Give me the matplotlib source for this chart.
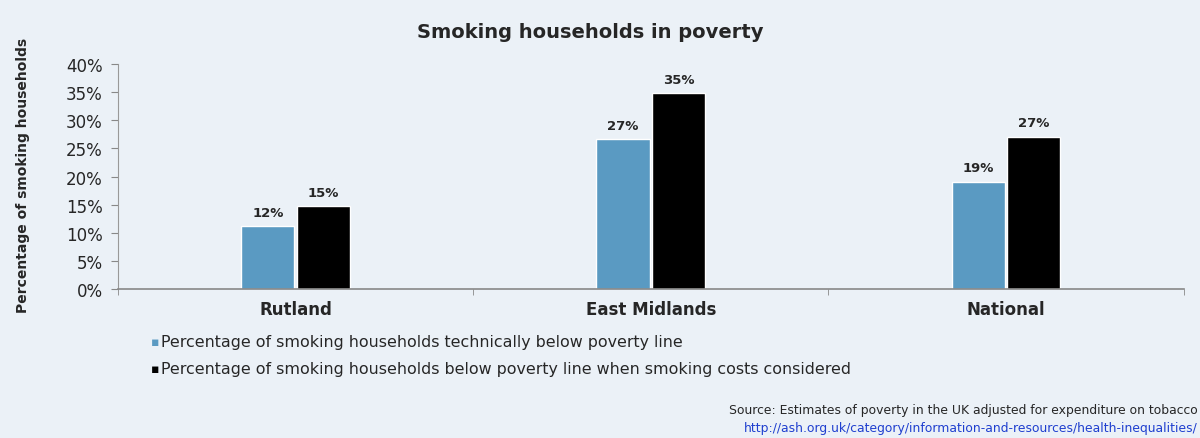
import numpy as np
import matplotlib.pyplot as plt

# data
regions = ["Rutland", "East Midlands", "National"]
below_line = [11.2, 26.6, 19.1]        # technically below poverty line
below_line_smoking = [14.8, 34.8, 27.1]  # when smoking costs considered
labels_blue = ["12%", "27%", "19%"]
labels_black = ["15%", "35%", "27%"]
yticks = [0, 5, 10, 15, 20, 25, 30, 35, 40]

bg = '#ebf1f7'
blue = '#5a9ac2'
txt = '#262626'

plt.rcParams['font.family'] = ['DejaVu Sans']

fig = plt.figure(figsize=(12, 4.39), dpi=100, facecolor=bg)
ax = fig.add_axes([0.0983, 0.339, 0.888, 0.513])
ax.set_facecolor(bg)

x = np.arange(len(regions))
w = 0.15
b1 = ax.bar(x - 0.078, below_line, w, color=blue, edgecolor='white', linewidth=1)
b2 = ax.bar(x + 0.078, below_line_smoking, w, color='black', edgecolor='white', linewidth=1)

for rect, lab in zip(b1, labels_blue):
    ax.text(rect.get_x() + rect.get_width() / 2, rect.get_height() + 1.3, lab,
            ha='center', va='bottom', fontsize=9.5, fontweight='bold', color=txt)
for rect, lab in zip(b2, labels_black):
    ax.text(rect.get_x() + rect.get_width() / 2, rect.get_height() + 1.3, lab,
            ha='center', va='bottom', fontsize=9.5, fontweight='bold', color=txt)

ax.set_xlim(-0.5, 2.5)
ax.set_ylim(0, 40)
ax.set_yticks(yticks)
ax.set_yticklabels([f"{t}%" for t in yticks], fontsize=12, color=txt)
ax.set_xticks(x)
ax.set_xticklabels(regions, fontsize=12, fontweight='bold', color=txt)
ax.tick_params(axis='x', length=0, pad=8)
ax.set_xticks([-0.5, 0.5, 1.5, 2.5], minor=True)
ax.tick_params(axis='x', which='minor', length=4, color='#888888', direction='out')
ax.tick_params(axis='y', length=5, color='#888888', pad=6)

for s in ['top', 'right']:
    ax.spines[s].set_visible(False)
ax.spines['left'].set_color('#999999')
ax.spines['bottom'].set_color('#888888')
ax.spines['bottom'].set_linewidth(1.2)

fig.text(0.4917, 0.925, "Smoking households in poverty", ha='center', va='center',
         fontsize=14, fontweight='bold', color=txt)
fig.text(0.019, 0.60, "Percentage of smoking households", rotation=90,
         ha='center', va='center', fontsize=10, fontweight='bold', color=txt)

# legend drawn as text lines with square markers
fig.text(0.1255, 0.219, "\u25aa", color=blue, fontsize=9, ha='left', va='center')
fig.text(0.134, 0.219, "Percentage of smoking households technically below poverty line",
         fontsize=11.4, color=txt, ha='left', va='center')
fig.text(0.1255, 0.159, "\u25aa", color='black', fontsize=9, ha='left', va='center')
fig.text(0.134, 0.159, "Percentage of smoking households below poverty line when smoking costs considered",
         fontsize=11.4, color=txt, ha='left', va='center')

fig.text(0.998, 0.066, "Source: Estimates of poverty in the UK adjusted for expenditure on tobacco",
         fontsize=8.9, color=txt, ha='right', va='center')
fig.text(0.998, 0.025, "http://ash.org.uk/category/information-and-resources/health-inequalities/",
         fontsize=8.9, color='#1f3fcf', ha='right', va='center')

plt.savefig('out.png', dpi=100, facecolor=bg)
